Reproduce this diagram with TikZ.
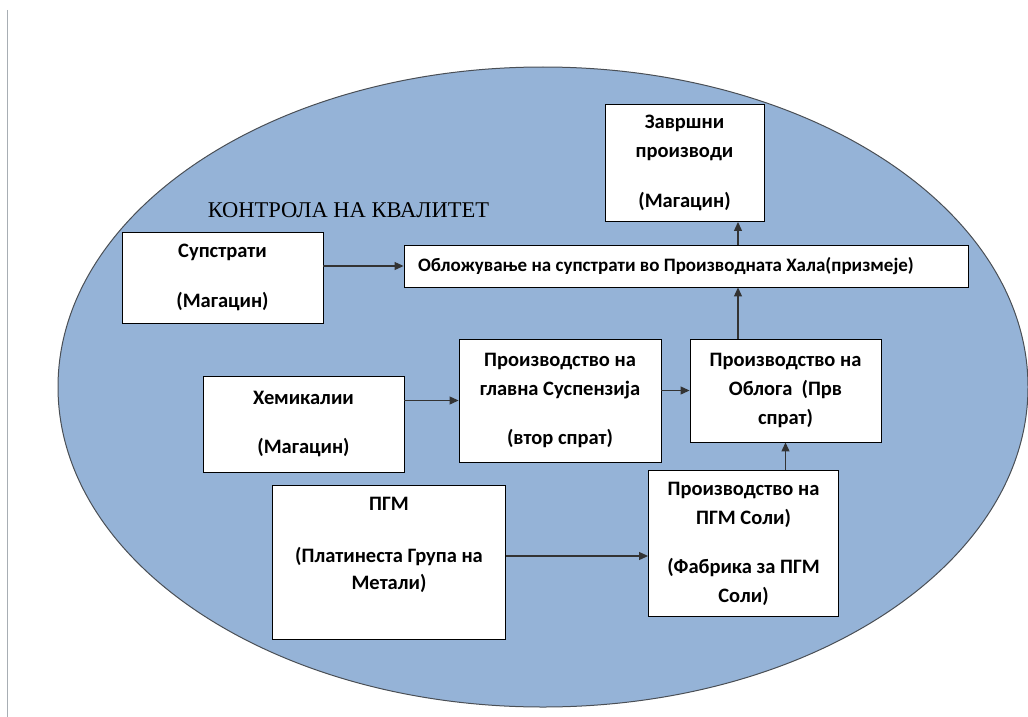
\documentclass[tikz,border=0pt]{standalone}
\usepackage{fontspec}
\setmainfont{Carlito}
\newfontfamily\ctrlfont{Liberation Serif}
\usetikzlibrary{positioning,arrows.meta}
\definecolor{qcblue}{HTML}{95B3D7}
\definecolor{rimgray}{HTML}{4A4F55}
\definecolor{pagegray}{HTML}{A8AEB4}
\definecolor{ink}{HTML}{000000}

\begin{document}
\begin{tikzpicture}[
  x=1pt,y=-1pt,
  stagebox/.style={draw=black,fill=white,line width=0.9pt,align=center,inner sep=2pt,font=\fontsize{20.5}{29}\selectfont\bfseries,text=ink},
  arr/.style={-{Triangle[length=9pt,width=8pt]},line width=1.1pt,draw=black!80}
]
\useasboundingbox (0,0) rectangle (1028,717);
\draw[pagegray,line width=1pt] (7,10) -- (7,717);
\draw[rimgray,fill=qcblue,line width=1pt] (543,387) ellipse [x radius=485,y radius=320];
\node[font=\ctrlfont\fontsize{22.5}{26}\selectfont] (ctrl) at (348.5,210) {КОНТРОЛА НА КВАЛИТЕТ};

\node[stagebox,minimum width=159,minimum height=117] (zav) at (684.5,163) {Завршни\\производи\\[21pt](Магацин)};
\node[stagebox,minimum height=42,text width=536,inner xsep=14pt,align=flush left,font=\fontsize{19}{24}\selectfont\bfseries] (obl) at (686,266) {Обложување на супстрати во Производната Хала(призмеје)};
\node[stagebox,minimum width=201,minimum height=91] (sup) at (222.5,277.5) {Супстрати\\[21pt](Магацин)};
\node[stagebox,minimum width=201,minimum height=96] (hem) at (303.5,424) {Хемикалии\\[21pt](Магацин)};
\node[stagebox,minimum width=202,minimum height=123] (susp) at (560,400.5) {Производство на\\главна Суспензија\\[20pt](втор спрат)};
\node[stagebox,minimum width=191,minimum height=103] (oblg) at (785.5,390.5) {Производство на\\Облога\ \ (Прв\\спрат)};
\node[stagebox,minimum width=233,minimum height=154] (pgm) at (389,562) {ПГМ\\[23pt](Платинеста Група на\\[-2pt]Метали)\\\strut};
\node[stagebox,minimum width=190,minimum height=146] (soli) at (743.5,543.5) {Производство на\\ПГМ Соли)\\[20pt](Фабрика за ПГМ\\Соли)};

\draw[arr] (sup.east |- obl) -- (obl.west);
\draw[arr] (hem.east |- susp) -- (susp.west);
\draw[arr] (susp.east |- oblg) -- (oblg.west);
\draw[arr] ([xshift=-47.5pt]oblg.north) -- ([xshift=-47.5pt]oblg.north |- obl.south);
\draw[arr] ([xshift=-47.5pt]oblg.north |- obl.north) -- ([xshift=-47.5pt]oblg.north |- zav.south);
\draw[arr] (oblg.south |- soli.north) -- (oblg.south);
\draw[arr] ([yshift=6pt]pgm.east) -- ([yshift=6pt]pgm.east -| soli.west);
\end{tikzpicture}
\end{document}
